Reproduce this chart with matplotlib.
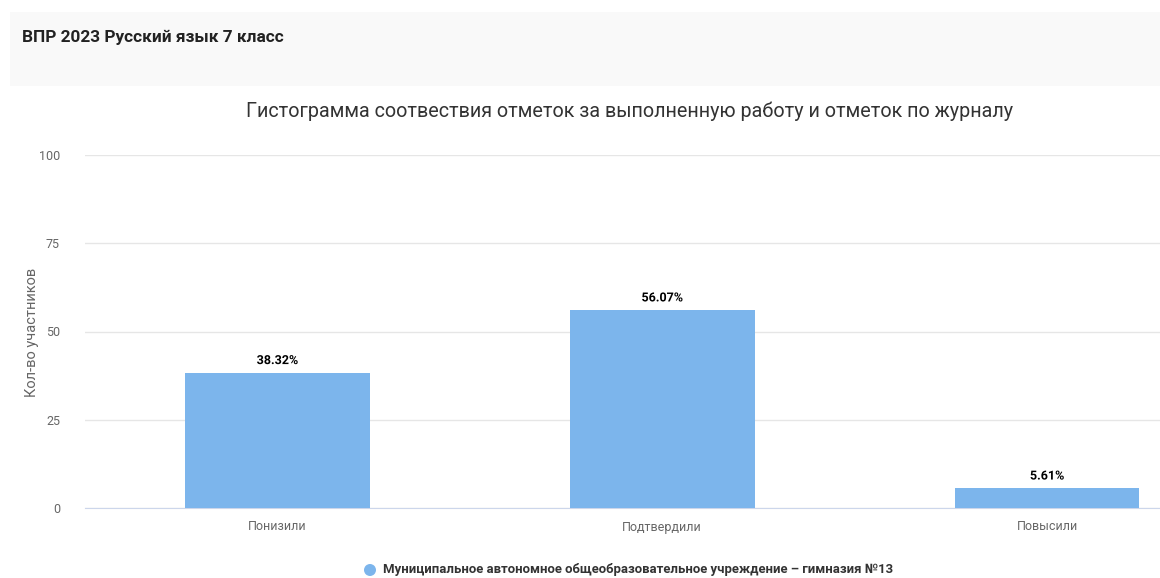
import matplotlib
matplotlib.use("Agg")
import matplotlib.pyplot as plt
from matplotlib.patches import Rectangle, Ellipse
import matplotlib.patheffects as pe

categories = ["Понизили", "Подтвердили", "Повысили"]
values = [38.32, 56.07, 5.61]
labels = ["38.32%", "56.07%", "5.61%"]
yticks = [0, 25, 50, 75, 100]
series_name = "Муниципальное автономное общеобразовательное учреждение – гимназия №13"
header = "ВПР 2023 Русский язык 7 класс"
title = "Гистограмма соотвествия отметок за выполненную работу и отметок по журналу"
ylabel = "Кол-во участников"

plt.rcParams['font.family'] = ['Roboto', 'DejaVu Sans']

W, H = 1160, 578
fig = plt.figure(figsize=(W / 100, H / 100), dpi=100)
fig.patch.set_facecolor("white")

# header box
fig.patches.append(Rectangle((10 / W, 1 - 86 / H), 1150 / W, 74 / H,
                             transform=fig.transFigure, facecolor="#f9f9f9",
                             edgecolor="none", zorder=0))
fig.text(22 / W, 1 - 37 / H, header, fontsize=12.4, fontweight="bold",
         color="#222222", va="center", ha="left")

fig.text(630 / W, 1 - 111 / H, title, fontsize=14.2, color="#333333",
         va="center", ha="center")

ax = fig.add_axes([85 / W, 1 - 508 / H, (1160 - 85) / W, (508 - 155) / H])
x = list(range(len(categories)))
bars = ax.bar(x, values, width=0.48, color="#7cb5ec", zorder=3)
for xi, v, lab in zip(x, values, labels):
    ax.text(xi, v + 1.6, lab, ha="center", va="bottom", fontsize=9,
            fontweight="bold", color="#000000", zorder=4,
            path_effects=[pe.withStroke(linewidth=2, foreground="white")])

ax.set_xlim(-0.5, (1160 - 277) / 385)
ax.set_ylim(0, 100)
ax.set_yticks(yticks)
ax.set_yticklabels([str(t) for t in yticks])
ax.set_xticks(x)
ax.set_xticklabels(categories)
ax.grid(axis="y", color="#e6e6e6", linewidth=1, zorder=0)
for s in ["top", "right", "left"]:
    ax.spines[s].set_visible(False)
ax.spines["bottom"].set_color("#ccd6eb")
ax.tick_params(axis="y", length=0, pad=18, labelsize=9, labelcolor="#666666")
ax.tick_params(axis="x", length=0, pad=9, labelsize=9, labelcolor="#666666")

fig.text(32 / W, 1 - 332 / H, ylabel, rotation=90, fontsize=10.5, color="#666666",
         va="center", ha="center")

# legend
fig.patches.append(Ellipse((370 / W, 1 - 570 / H), 12 / W, 12 / H,
                           transform=fig.transFigure,
                           facecolor="#7cb5ec", edgecolor="none"))
fig.text(383 / W, 1 - 570 / H, series_name, fontsize=9.45, fontweight="bold",
         color="#333333", va="center", ha="left")

fig.savefig("out.png", dpi=100)
